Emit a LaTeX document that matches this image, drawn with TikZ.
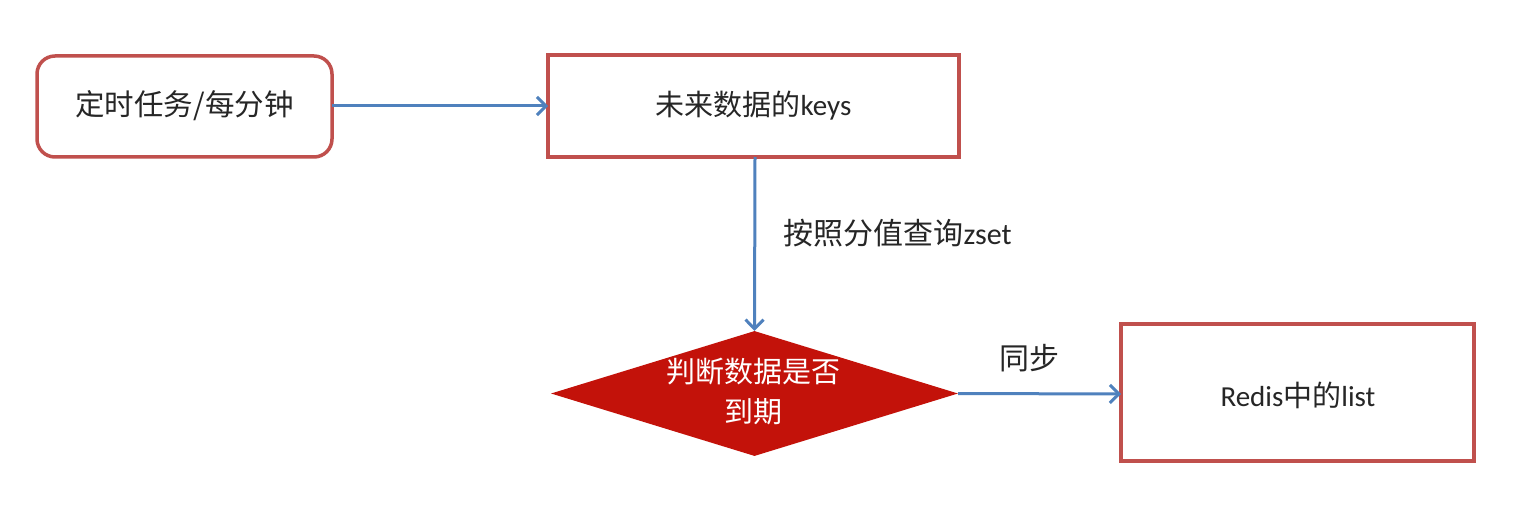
\documentclass[tikz,border=0pt]{standalone}
\usepackage{fontspec}
\setmainfont{Carlito}
\newfontfamily\cjk{Noto Sans CJK SC}
\newfontfamily\lat{Carlito}
\usetikzlibrary{arrows.meta,shapes.geometric}
\definecolor{boxred}{HTML}{C0504D}
\definecolor{arrowblue}{HTML}{4F81BD}
\definecolor{diafill}{HTML}{C3120A}
\begin{document}
\begin{tikzpicture}[x=1pt,y=-1pt,
  box/.style={draw=boxred,line width=3.5pt,fill=white},
  conn/.style={draw=arrowblue,line width=3pt,-{Straight Barb[length=9pt,width=18pt,line width=3pt]}},
  txt/.style={font=\cjk\fontsize{29}{34}\selectfont,text=black!85}]
\useasboundingbox[fill=white] (0,0) rectangle (1513,516);
\draw[box,rounded corners=18pt] (37,56) rectangle (332,157);
\node[txt,font=\cjk\fontsize{29.5}{34}\selectfont] (b1) at (184.5,106) {定时任务/每分钟};
\coordinate (b1e) at (332,106);
\draw[box] (548,55) rectangle (959,157);
\node[txt] (b2) at (753.5,106) {未来数据的{\lat keys}};
\coordinate (b2w) at (548,106);
\coordinate (b2s) at (755,157);
\node[diamond,fill=diafill,draw=none,minimum width=407pt,minimum height=125pt,inner sep=0pt,aspect=3.26] (d) at (754.5,393.5) {};
\node[txt,text=white,align=center,font=\cjk\fontsize{29}{40}\selectfont] (dt) at (753,392) {判断数据是否\\到期};
\draw[box] (1121,324) rectangle (1474,461);
\node[txt] (b3) at (1298,395) {{\lat Redis}中的{\lat list}};
\coordinate (b3w) at (1121,394);
\draw[conn] (b1e) -- (b2w);
\draw[conn] (b2s) -- (d.north);
\draw[conn] (d.east) -- (b3w);
\node[txt,anchor=west,font=\cjk\fontsize{30}{34}\selectfont] (l1) at (780,233) {按照分值查询{\lat zset}};
\node[txt,font=\cjk\fontsize{30}{34}\selectfont] (l2) at (1029,358) {同步};
\end{tikzpicture}
\end{document}
